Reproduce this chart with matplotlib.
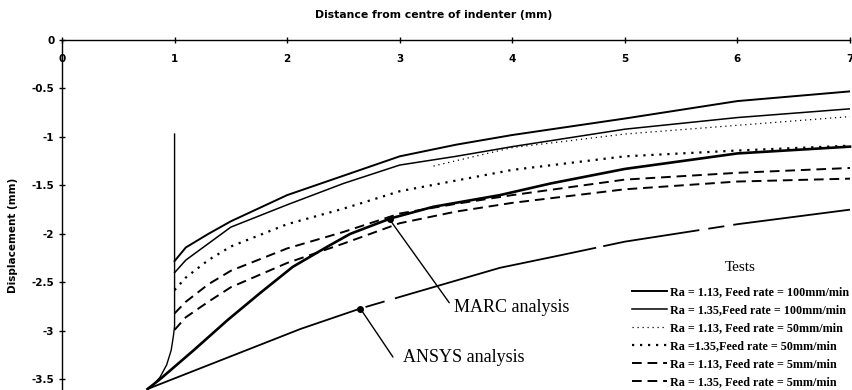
import matplotlib
matplotlib.use("Agg")
import matplotlib.pyplot as plt

# ---------------- data ----------------
x_ticks = [0, 1, 2, 3, 4, 5, 6, 7]
y_ticks = [0, -0.5, -1, -1.5, -2, -2.5, -3, -3.5]
y_tick_labels = ["0", "-0.5", "-1", "-1.5", "-2", "-2.5", "-3", "-3.5"]

series_labels = [
    "Ra = 1.13, Feed rate = 100mm/min",
    "Ra = 1.35,Feed rate = 100mm/min",
    "Ra = 1.13, Feed rate = 50mm/min",
    "Ra =1.35,Feed rate = 50mm/min",
    "Ra = 1.13, Feed rate = 5mm/min",
    "Ra = 1.35, Feed rate = 5mm/min",
]

test_x = [1.0, 1.1, 1.3, 1.5, 2.0, 2.5, 3.0, 3.5, 4.0, 5.0, 6.0, 7.0]
ra113_f100 = [-2.28, -2.14, -2.00, -1.87, -1.60, -1.40, -1.20, -1.08, -0.98, -0.81, -0.63, -0.53]
ra135_f100 = [-2.40, -2.27, -2.10, -1.93, -1.70, -1.48, -1.29, -1.20, -1.10, -0.92, -0.80, -0.71]
ra135_f50 = [-2.58, -2.45, -2.27, -2.13, -1.90, -1.74, -1.56, -1.45, -1.34, -1.20, -1.14, -1.09]
ra113_f5 = [-2.82, -2.70, -2.52, -2.38, -2.15, -1.98, -1.79, -1.69, -1.60, -1.44, -1.37, -1.32]
ra135_f5 = [-2.99, -2.86, -2.70, -2.55, -2.30, -2.10, -1.89, -1.77, -1.68, -1.54, -1.46, -1.43]

ra113_f50_x = [3.3, 4.0, 5.0, 6.0, 7.0]
ra113_f50 = [-1.30, -1.11, -0.97, -0.88, -0.79]

marc_x = [0.76, 0.87, 1.17, 1.47, 1.76, 2.05, 2.36, 2.56, 2.92, 3.3, 3.89, 4.34, 5.0, 6.0, 7.0]
marc_y = [-3.60, -3.50, -3.20, -2.89, -2.61, -2.34, -2.13, -2.00, -1.84, -1.72, -1.60, -1.48, -1.33, -1.17, -1.10]

ansys_x = [0.76, 2.12, 2.65, 3.12, 3.89, 4.43, 5.0, 6.0, 7.0]
ansys_y = [-3.60, -2.98, -2.77, -2.61, -2.35, -2.22, -2.08, -1.90, -1.75]

edge_x = [1.0, 1.0, 0.99, 0.97, 0.93, 0.87, 0.80, 0.76]
edge_y = [-0.97, -2.95, -3.05, -3.20, -3.35, -3.48, -3.57, -3.60]

marc_point = (2.91, -1.85)
marc_line_end = (3.44, -2.71)
marc_text_pos = (3.48, -2.76)
ansys_point = (2.65, -2.77)
ansys_line_end = (2.94, -3.27)
ansys_text_pos = (3.03, -3.28)

# ---------------- figure ----------------
W, H = 853, 390
fig = plt.figure(figsize=(W / 100, H / 100), dpi=100)
ax = fig.add_axes([62 / W, 1 / H, (850 - 62) / W, (389 - 40) / H])
ax.set_xlim(0, 7)
ax.set_ylim(-3.6, 0)

k = "black"
ax.plot(edge_x, edge_y, color=k, lw=1.0, clip_on=False)
l1, = ax.plot(test_x, ra113_f100, color=k, lw=1.4, ls="-")
l2, = ax.plot(test_x, ra135_f100, color=k, lw=1.1, ls="-")
l3, = ax.plot(ra113_f50_x, ra113_f50, color=k, lw=0.9, ls=(0, (1, 3)))
l4, = ax.plot(test_x, ra135_f50, color=k, lw=1.6, ls=(0, (1, 2.6)))
l5, = ax.plot(test_x, ra113_f5, color=k, lw=1.4, ls=(0, (5, 3)))
l6, = ax.plot(test_x, ra135_f5, color=k, lw=1.4, ls=(0, (5, 3)))
ax.plot(marc_x, marc_y, color=k, lw=1.9, clip_on=False)
ax.plot(ansys_x, ansys_y, color=k, lw=1.3, clip_on=False,
        ls=(0, (125, 4, 11, 6, 115, 4, 54, 5, 9, 5, 154, 1)))

# annotations
for pt, end, txt, tp in [(marc_point, marc_line_end, "MARC analysis", marc_text_pos),
                         (ansys_point, ansys_line_end, "ANSYS analysis", ansys_text_pos)]:
    ax.plot([pt[0]], [pt[1]], marker="o", ms=4, color=k)
    ax.annotate("", xy=pt, xytext=end,
                arrowprops=dict(arrowstyle="-", color=k, lw=1.0, shrinkA=0, shrinkB=0))
    ax.text(tp[0], tp[1], txt, family="Liberation Serif", fontsize=13,
            ha="left", va="center")

# axes styling
for s in ["right", "top"]:
    ax.spines[s].set_visible(False)
ax.spines["bottom"].set_position(("data", 0))
ax.spines["bottom"].set_linewidth(1.0)
ax.spines["left"].set_linewidth(1.0)
ax.set_xticks(x_ticks)
ax.set_xticklabels([str(v) for v in x_ticks], fontsize=7.5, fontweight="bold",
                   family="DejaVu Sans")
ax.set_yticks(y_ticks)
ax.set_yticklabels(y_tick_labels, fontsize=7.5, fontweight="bold", family="DejaVu Sans")
ax.tick_params(axis="both", direction="inout", length=5, width=1.0)
ax.tick_params(axis="x", pad=7.5)
ax.tick_params(axis="y", pad=3)

fig.text(434 / W, 1 - 15 / H, "Distance from centre of indenter (mm)",
         fontsize=7.8, fontweight="bold", family="DejaVu Sans", ha="center", va="center")
fig.text(13 / W, 1 - 235 / H, "Displacement (mm)", fontsize=7.5, fontweight="bold",
         family="DejaVu Sans", rotation=90, ha="center", va="center")

leg = ax.legend([l1, l2, l3, l4, l5, l6], series_labels, title="Tests",
                loc="lower right", bbox_to_anchor=(1.0, -0.002), frameon=False,
                prop=dict(family="Liberation Serif", weight="bold", size=8.7),
                handlelength=2.9, handletextpad=0.25, labelspacing=0.5,
                borderaxespad=0, borderpad=0.1)
leg.get_title().set_family("Liberation Serif")
leg.get_title().set_fontsize(11)
leg._legend_box.sep = 9

fig.savefig("out.png", dpi=100)
